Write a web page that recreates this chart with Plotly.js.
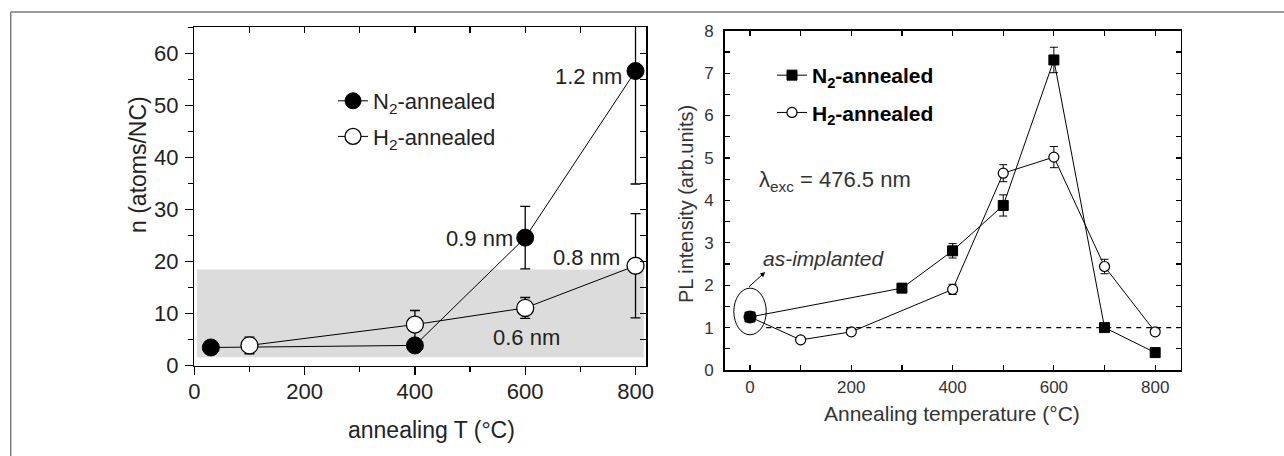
<!DOCTYPE html>
<html>
<head>
<meta charset="utf-8">
<script src="https://cdn.plot.ly/plotly-3.0.1.min.js"></script>
<style>
  html, body { margin: 0; padding: 0; background: #fff; }
  #chart { width: 1284px; height: 456px; }
</style>
</head>
<body>
<div id="chart"></div>
<script>
// ---- Left panel: atoms per nanocrystal vs annealing temperature ----
const nT_N2 = [30, 400, 600, 800];
const n_N2 = [3.5, 3.9, 24.6, 56.6];
const nErr_N2 = [0, 0, 6.0, 21.7];

const nT_H2 = [100, 400, 600, 800];
const n_H2 = [3.9, 7.9, 11.1, 19.2];
const nErr_H2 = [1.6, 2.7, 2.0, 10.0];

// nanocrystal size labels and the points they sit next to
const sizeText = ['1.2 nm', '0.9 nm', '0.8 nm', '0.6 nm'];
const sizeAt = [[780, 55.5], [581, 24.5], [776, 20.7], [602, 5.5]];
const sizeAnchor = ['right', 'right', 'right', 'center'];

// grey band of the n axis
const bandN = [1.6, 18.5];

// ---- Right panel: PL intensity vs annealing temperature ----
const plT_N2 = [0, 300, 400, 500, 600, 700, 800];
const pl_N2 = [1.25, 1.93, 2.81, 3.88, 7.31, 1.0, 0.41];
const plErr_N2 = [0, 0.1, 0.17, 0.25, 0.3, 0, 0];

const plT_H2 = [0, 100, 200, 400, 500, 600, 700, 800];
const pl_H2 = [1.25, 0.71, 0.9, 1.9, 4.64, 5.02, 2.44, 0.9];
const plErr_H2 = [0, 0, 0, 0.12, 0.2, 0.25, 0.17, 0];

const asImplantedT = [0];
const asImplantedPL = [1.25];
const referenceLevel = 1.0;

const W = 1284, H = 456;
const px = v => v / W;
const py = v => 1 - v / H;

const FONT = 'Liberation Sans, Arial, sans-serif';
const INK = '#222';

const traces = [
  {
    x: nT_N2, y: n_N2, xaxis: 'x', yaxis: 'y',
    type: 'scatter', mode: 'lines+markers', name: 'N<sub>2</sub>-annealed',
    legend: 'legend', legendgroup: 'lN2',
    line: { color: '#000', width: 1 },
    marker: { symbol: 'circle', size: 17, color: '#000', line: { color: '#000', width: 1 } },
    error_y: { type: 'data', array: nErr_N2, visible: true, color: '#000', thickness: 1.3, width: 5 }
  },
  {
    x: nT_H2, y: n_H2, xaxis: 'x', yaxis: 'y',
    type: 'scatter', mode: 'lines+markers', name: 'H<sub>2</sub>-annealed',
    legend: 'legend', legendgroup: 'lH2',
    line: { color: '#000', width: 1 },
    marker: { symbol: 'circle', size: 17, color: '#fff', line: { color: '#000', width: 1.3 } },
    error_y: { type: 'data', array: nErr_H2, visible: true, color: '#000', thickness: 1.3, width: 5 }
  },
  // empty traces so the mirrored frame axes of the left panel get drawn
  { x: [], y: [], xaxis: 'x3', yaxis: 'y', type: 'scatter', mode: 'markers', showlegend: false, hoverinfo: 'skip' },
  { x: [], y: [], xaxis: 'x', yaxis: 'y3', type: 'scatter', mode: 'markers', showlegend: false, hoverinfo: 'skip' },
  {
    x: plT_N2, y: pl_N2, xaxis: 'x2', yaxis: 'y2',
    type: 'scatter', mode: 'lines+markers', name: '<b>N<sub>2</sub>-annealed</b>',
    legend: 'legend2', legendgroup: 'rN2',
    line: { color: '#000', width: 1 },
    marker: { symbol: 'square', size: 10, color: '#000', line: { color: '#000', width: 1 } },
    error_y: { type: 'data', array: plErr_N2, visible: true, color: '#000', thickness: 1, width: 4 }
  },
  {
    x: plT_H2, y: pl_H2, xaxis: 'x2', yaxis: 'y2',
    type: 'scatter', mode: 'lines+markers', name: '<b>H<sub>2</sub>-annealed</b>',
    legend: 'legend2', legendgroup: 'rH2',
    line: { color: '#000', width: 1 },
    marker: { symbol: 'circle', size: 10, color: '#fff', line: { color: '#000', width: 1.2 } },
    error_y: { type: 'data', array: plErr_H2, visible: true, color: '#000', thickness: 1, width: 4 }
  },
  {
    x: asImplantedT, y: asImplantedPL, xaxis: 'x2', yaxis: 'y2',
    type: 'scatter', mode: 'markers', showlegend: false, hoverinfo: 'skip',
    marker: { symbol: 'circle', size: 13, color: '#000' }
  }
];

const tickFontL = { family: FONT, size: 22, color: INK };
const tickFontR = { family: FONT, size: 17, color: '#333' };

const layout = {
  width: W, height: H,
  margin: { l: 0, r: 0, t: 0, b: 0 },
  paper_bgcolor: '#fff', plot_bgcolor: 'rgba(0,0,0,0)',
  font: { family: FONT, color: INK },
  showlegend: true,
  xaxis: {
    domain: [px(194.3), px(646)], anchor: 'y',
    range: [0, 819], tickvals: [0, 200, 400, 600, 800],
    ticks: 'outside', ticklen: 8, tickwidth: 1.3, tickcolor: '#000',
    minor: { dtick: 100, tick0: 0, ticks: 'outside', ticklen: 5, tickcolor: '#000', showgrid: false },
    showline: true, linecolor: '#000', linewidth: 1.5,
    showgrid: false, zeroline: false, tickfont: tickFontL, ticklabelstandoff: -3
  },
  yaxis: {
    domain: [py(365.7), py(27.3)], anchor: 'x',
    range: [0, 65], dtick: 10, tick0: 0,
    ticks: 'outside', ticklen: 8, tickwidth: 1.3, tickcolor: '#000',
    minor: { dtick: 5, tick0: 0, ticks: 'outside', ticklen: 5, tickcolor: '#000', showgrid: false },
    showline: true, linecolor: '#000', linewidth: 1.5,
    showgrid: false, zeroline: false, tickfont: tickFontL, ticklabelstandoff: 2
  },
  xaxis3: {
    overlaying: 'x', anchor: 'y', side: 'top',
    range: [0, 819], dtick: 100, tick0: 0,
    ticks: 'inside', ticklen: 6, tickwidth: 1.3, tickcolor: '#000',
    showticklabels: false, showline: true, linecolor: '#000', linewidth: 1.5,
    showgrid: false, zeroline: false
  },
  yaxis3: {
    overlaying: 'y', anchor: 'x', side: 'right',
    range: [0, 65], dtick: 5, tick0: 0,
    ticks: 'inside', ticklen: 6, tickwidth: 1.3, tickcolor: '#000',
    showticklabels: false, showline: true, linecolor: '#000', linewidth: 1.5,
    showgrid: false, zeroline: false
  },
  xaxis2: {
    domain: [px(724.7), px(1180.5)], anchor: 'y2',
    range: [-50, 850], tickvals: [0, 200, 400, 600, 800],
    ticks: 'inside', ticklen: 5, tickwidth: 1.2, tickcolor: '#000', mirror: 'ticks',
    minor: { dtick: 100, tick0: 0, ticks: 'inside', ticklen: 5, tickcolor: '#000', showgrid: false },
    showline: true, linecolor: '#000', linewidth: 1.5,
    showgrid: false, zeroline: false, tickfont: tickFontR, ticklabelstandoff: 1
  },
  yaxis2: {
    domain: [py(370), py(30.7)], anchor: 'x2',
    range: [0, 8], dtick: 1, tick0: 0,
    ticks: 'inside', ticklen: 5, tickwidth: 1.2, tickcolor: '#000', mirror: 'ticks',
    minor: { dtick: 0.5, tick0: 0, ticks: 'inside', ticklen: 5, tickcolor: '#000', showgrid: false },
    showline: true, linecolor: '#000', linewidth: 1.5,
    showgrid: false, zeroline: false, tickfont: tickFontR, ticklabelstandoff: 6
  },
  legend: {
    x: px(333), y: py(80), xanchor: 'left', yanchor: 'top',
    bgcolor: 'rgba(0,0,0,0)', borderwidth: 0,
    font: { family: FONT, size: 22, color: INK },
    traceorder: 'grouped', tracegroupgap: 4
  },
  legend2: {
    x: px(772), y: py(55), xanchor: 'left', yanchor: 'top',
    bgcolor: 'rgba(0,0,0,0)', borderwidth: 0,
    font: { family: FONT, size: 21, color: '#000' },
    traceorder: 'grouped', tracegroupgap: 7
  },
  shapes: [
    // outer frame (top and left edges)
    { type: 'line', xref: 'paper', yref: 'paper', x0: px(10.7), x1: 1, y0: py(12), y1: py(12),
      line: { color: '#7a7a7a', width: 1.5 } },
    { type: 'line', xref: 'paper', yref: 'paper', x0: px(10.7), x1: px(10.7), y0: 0, y1: py(12),
      line: { color: '#7a7a7a', width: 1.5 } },
    // grey band
    { type: 'rect', xref: 'x', yref: 'y', x0: 5, x1: 815, y0: bandN[0], y1: bandN[1],
      fillcolor: '#dcdcdc', line: { width: 0 }, layer: 'below' },
    // as-implanted reference level
    { type: 'line', xref: 'x2', yref: 'y2', x0: 32, x1: 850, y0: referenceLevel, y1: referenceLevel,
      line: { color: '#000', width: 1.2, dash: '5px,5px' } },
    // ellipse around the as-implanted point
    { type: 'circle', xref: 'x2', yref: 'y2', x0: -32, x1: 32, y0: 0.83, y1: 1.93,
      line: { color: '#000', width: 1 } }
  ],
  annotations: [
    ...sizeText.map((t, i) => ({
      text: t, xref: 'x', yref: 'y', x: sizeAt[i][0], y: sizeAt[i][1],
      xanchor: sizeAnchor[i], yanchor: 'middle', showarrow: false,
      font: { family: FONT, size: 22, color: INK }
    })),
    { text: 'n (atoms/NC)', xref: 'paper', yref: 'paper', x: px(138), y: py(165),
      textangle: -90, showarrow: false, xanchor: 'center', yanchor: 'middle',
      font: { family: FONT, size: 23, color: INK } },
    { text: 'annealing T (°C)', xref: 'paper', yref: 'paper', x: px(431), y: py(430),
      showarrow: false, xanchor: 'center', yanchor: 'middle',
      font: { family: FONT, size: 23, color: INK } },
    { text: 'PL intensity (arb.units)', xref: 'paper', yref: 'paper', x: px(686), y: py(204),
      textangle: -90, showarrow: false, xanchor: 'center', yanchor: 'middle',
      font: { family: FONT, size: 20, color: '#333' } },
    { text: 'Annealing temperature (°C)', xref: 'paper', yref: 'paper', x: px(952), y: py(413),
      showarrow: false, xanchor: 'center', yanchor: 'middle',
      font: { family: FONT, size: 21, color: '#333' } },
    { text: 'λ<sub>exc</sub> = 476.5 nm', xref: 'x2', yref: 'y2', x: 13, y: 4.45,
      showarrow: false, xanchor: 'left', yanchor: 'middle',
      font: { family: FONT, size: 22, color: '#333' } },
    { text: '<i>as-implanted</i>', xref: 'x2', yref: 'y2', x: 21, y: 2.64,
      showarrow: false, xanchor: 'left', yanchor: 'middle',
      font: { family: FONT, size: 21, color: '#333' } },
    { text: '', xref: 'x2', yref: 'y2', x: 30, y: 2.31,
      axref: 'x2', ayref: 'y2', ax: -5, ay: 1.93,
      showarrow: true, arrowhead: 2, arrowsize: 1, arrowwidth: 1, arrowcolor: '#000' }
  ]
};

Plotly.newPlot('chart', traces, layout, { staticPlot: true, displayModeBar: false });
</script>
</body>
</html>
